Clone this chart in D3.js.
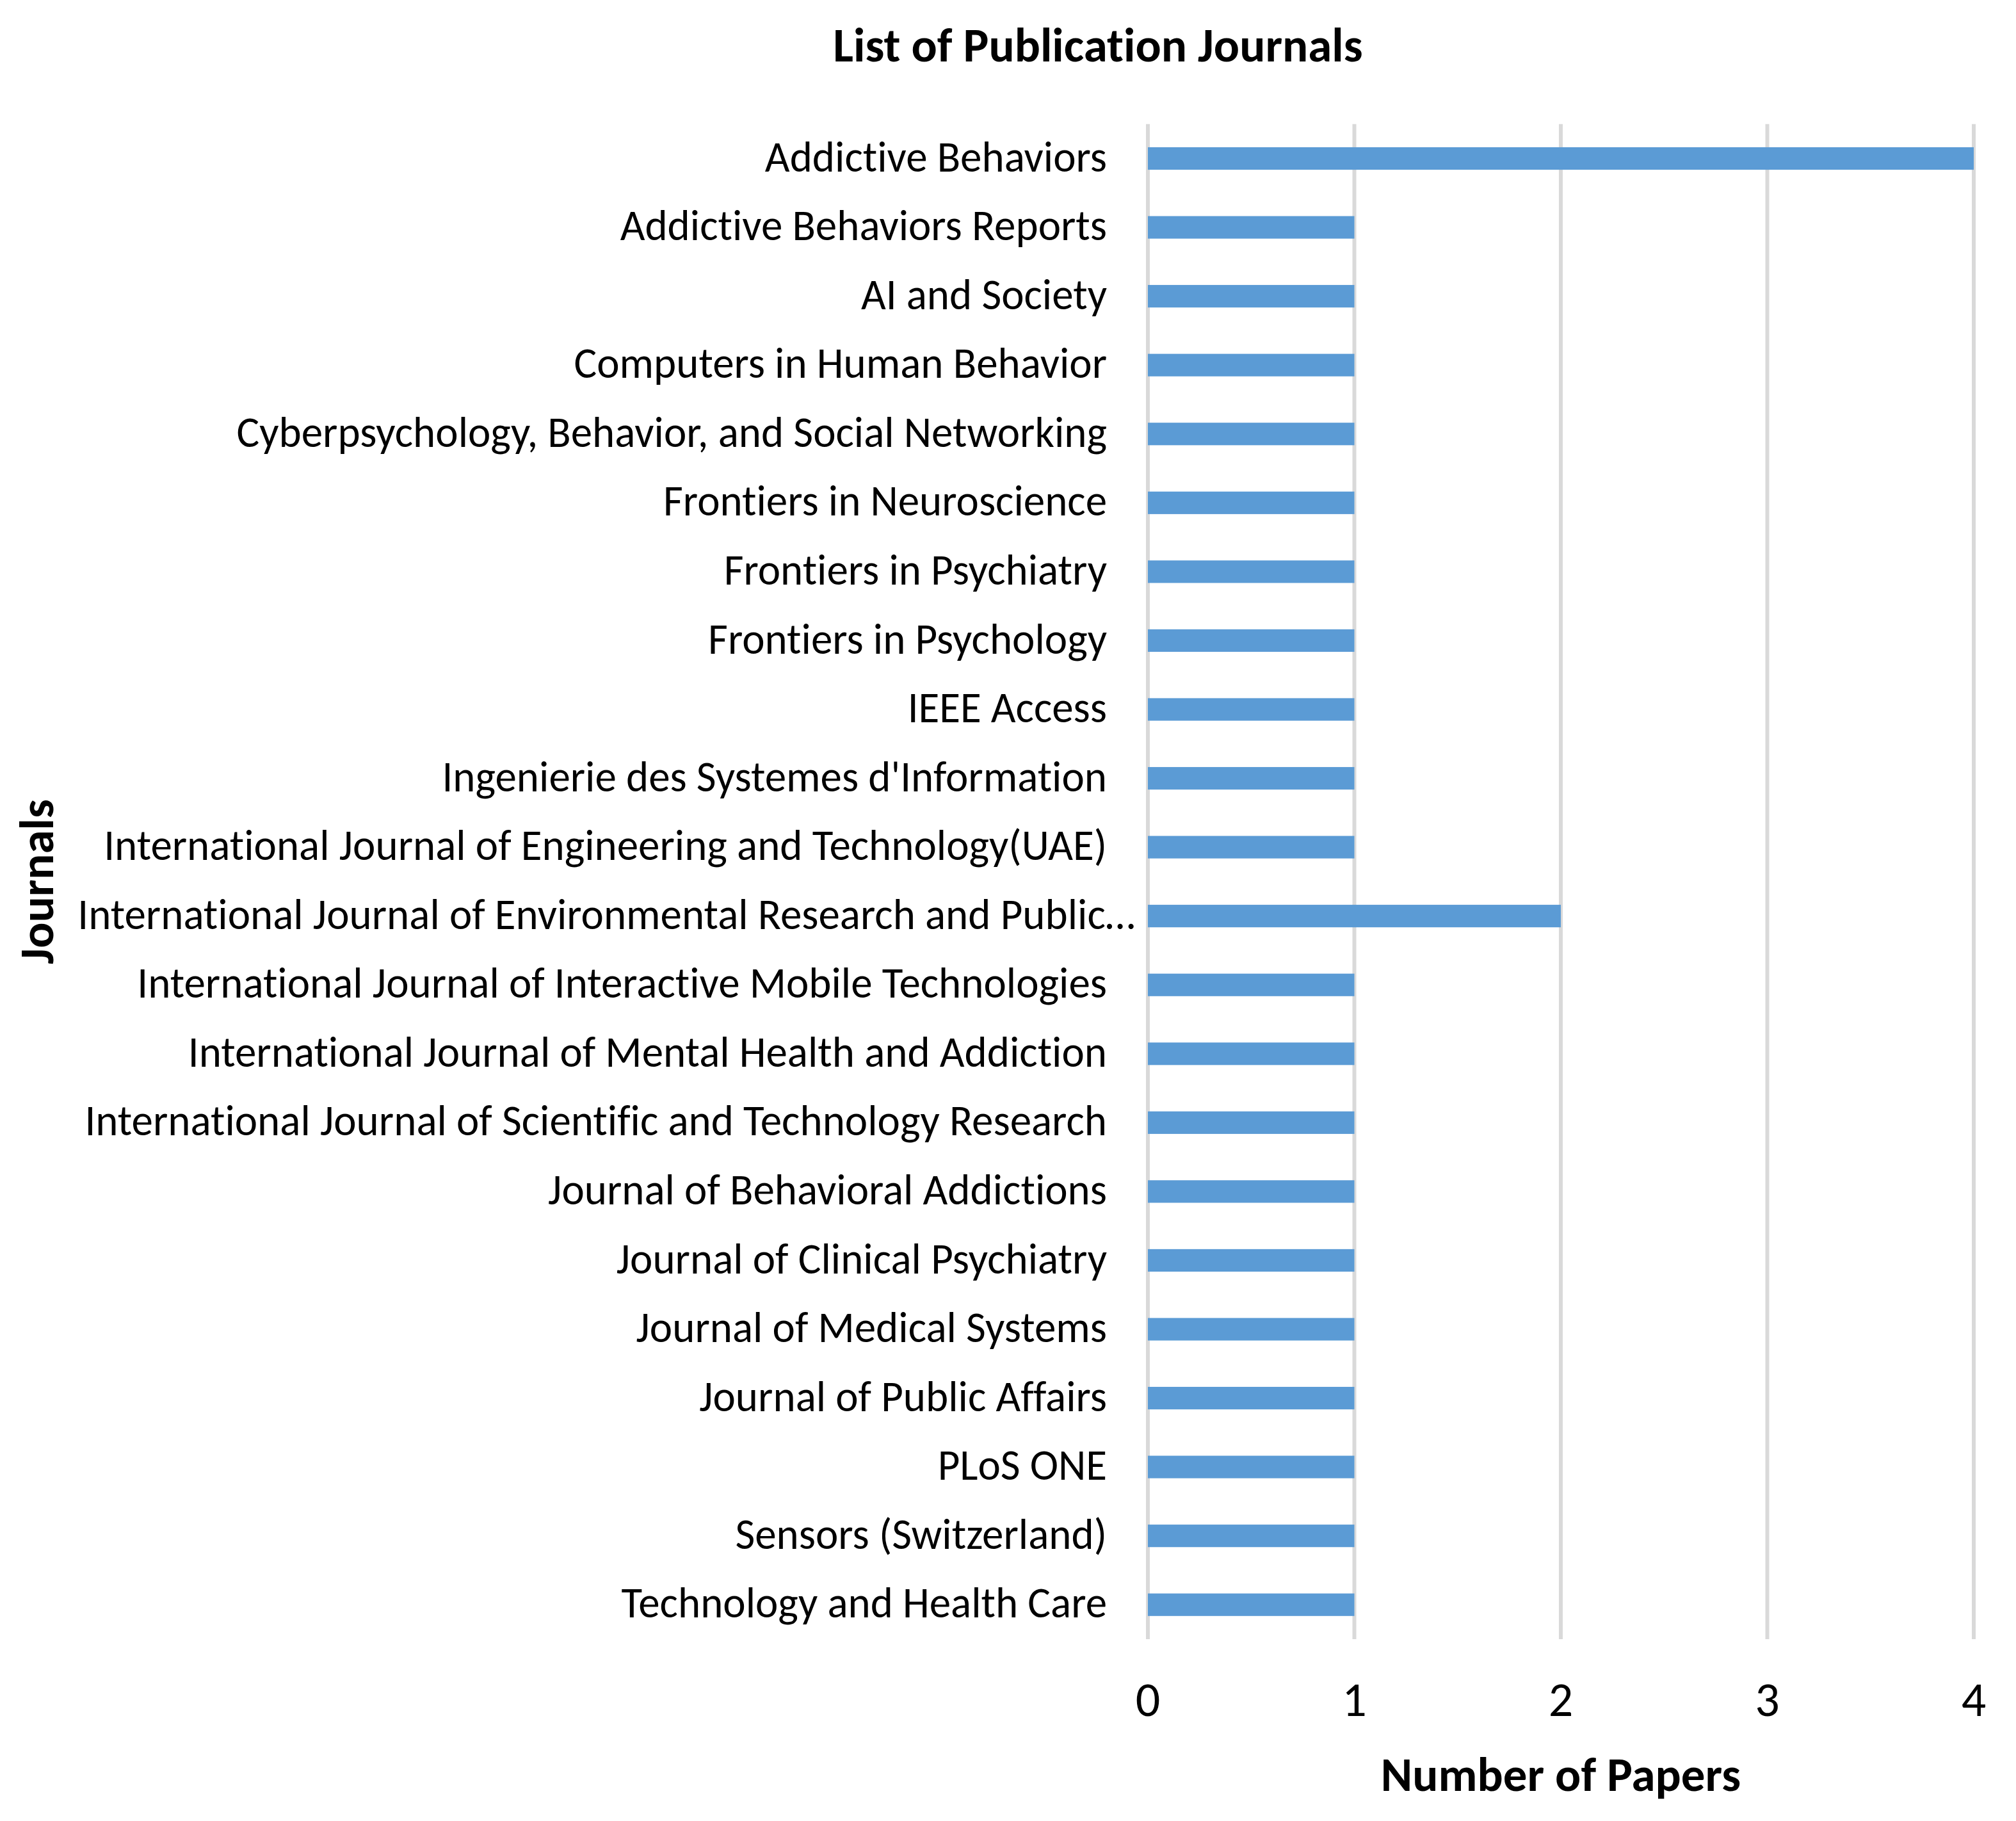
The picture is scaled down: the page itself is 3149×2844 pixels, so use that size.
<!DOCTYPE html>
<html>
<head>
<meta charset="utf-8">
<script src="https://cdn.jsdelivr.net/npm/d3@7"></script>
<style>
  html, body { margin: 0; padding: 0; background: #ffffff; }
  svg { display: block; }
  text { font-variant-ligatures: none; font-feature-settings: "liga" 0, "clig" 0; }
</style>
</head>
<body>
<svg id="chart" width="3149" height="2844"></svg>
<script>
const categories = [
  "Addictive Behaviors",
  "Addictive Behaviors Reports",
  "AI and Society",
  "Computers in Human Behavior",
  "Cyberpsychology, Behavior, and Social Networking",
  "Frontiers in Neuroscience",
  "Frontiers in Psychiatry",
  "Frontiers in Psychology",
  "IEEE Access",
  "Ingenierie des Systemes d'Information",
  "International Journal of Engineering and Technology(UAE)",
  "International Journal of Environmental Research and Public…",
  "International Journal of Interactive Mobile Technologies",
  "International Journal of Mental Health and Addiction",
  "International Journal of Scientific and Technology Research",
  "Journal of Behavioral Addictions",
  "Journal of Clinical Psychiatry",
  "Journal of Medical Systems",
  "Journal of Public Affairs",
  "PLoS ONE",
  "Sensors (Switzerland)",
  "Technology and Health Care"
];
const papers = [4, 1, 1, 1, 1, 1, 1, 1, 1, 1, 1, 2, 1, 1, 1, 1, 1, 1, 1, 1, 1, 1];
const xTicks = [0, 1, 2, 3, 4];
const chartTitle = "List of Publication Journals";
const xTitle = "Number of Papers";
const yTitle = "Journals";

const FONT = "Carlito, Calibri, 'Liberation Sans Narrow', 'Open Sans', sans-serif";
const svg = d3.select("#chart");
const margin = { left: 1793, right: 3149 - 3083, top: 193.75, bottom: 2844 - 2560 };
const W = 3149, H = 2844;

const x = d3.scaleLinear().domain([0, 4]).range([margin.left, W - margin.right]);
const y = d3.scaleBand().domain(categories).range([margin.top, H - margin.bottom]).paddingInner(0.673).paddingOuter(0.3365);

// gridlines
svg.append("g").selectAll("line").data(xTicks).join("line")
  .attr("x1", d => x(d)).attr("x2", d => x(d))
  .attr("y1", margin.top).attr("y2", H - margin.bottom)
  .attr("stroke", "#d9d9d9").attr("stroke-width", 6);

// bars
svg.append("g").selectAll("rect").data(categories).join("rect")
  .attr("x", x(0))
  .attr("y", d => y(d))
  .attr("width", (d, i) => x(papers[i]) - x(0))
  .attr("height", y.bandwidth())
  .attr("fill", "#5b9bd5");

// category labels
svg.append("g").selectAll("text").data(categories).join("text")
  .attr("x", d => d.endsWith("…") ? x(0) - 20 : x(0) - 64)
  .attr("y", d => y(d) + y.bandwidth() / 2)
  .attr("dy", "0.3em")
  .attr("text-anchor", "end")
  .attr("font-family", FONT)
  .attr("font-size", 67)
  .attr("fill", "#000")
  .text(d => d);

// tick labels
svg.append("g").selectAll("text").data(xTicks).join("text")
  .attr("x", d => x(d))
  .attr("y", 2680)
  .attr("text-anchor", "middle")
  .attr("font-family", FONT)
  .attr("font-size", 76)
  .attr("fill", "#000")
  .text(d => d);

svg.append("text")
  .attr("x", (x(0) + x(4)) / 2).attr("y", 2797)
  .attr("text-anchor", "middle")
  .attr("font-family", FONT).attr("font-weight", "bold").attr("font-size", 75)
  .text(xTitle);

svg.append("text")
  .attr("transform", `translate(83, ${(margin.top + H - margin.bottom) / 2}) rotate(-90)`)
  .attr("text-anchor", "middle")
  .attr("font-family", FONT).attr("font-weight", "bold").attr("font-size", 75)
  .text(yTitle);

svg.append("text")
  .attr("x", 1715).attr("y", 96)
  .attr("text-anchor", "middle")
  .attr("font-family", FONT).attr("font-weight", "bold").attr("font-size", 75)
  .text(chartTitle);
</script>
</body>
</html>
